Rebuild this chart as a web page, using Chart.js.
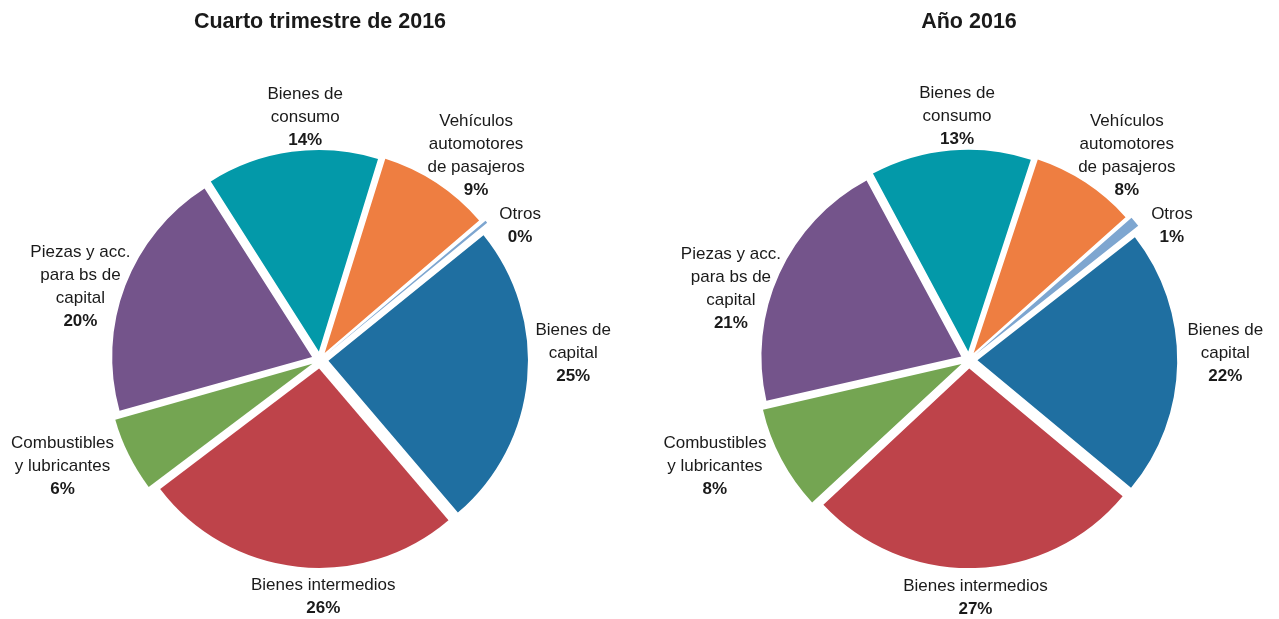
<!DOCTYPE html>
<html>
<head>
<meta charset="utf-8">
<script src="https://cdn.jsdelivr.net/npm/chart.js@4.4.1/dist/chart.umd.min.js"></script>
<style>
  body { margin: 0; background: #fff; }
  #wrap { display: flex; width: 1279px; height: 619px; }
  .box { position: relative; height: 619px; }
</style>
</head>
<body>
<div id="wrap">
  <div class="box" style="width:640px"><canvas id="pieQ4"></canvas></div>
  <div class="box" style="width:639px"><canvas id="pieAnio"></canvas></div>
</div>
<script>
// categorías (cada una partida en renglones como en el original)
const categorias = [
    ['Bienes de', 'capital'],
    ['Bienes intermedios'],
    ['Combustibles', 'y lubricantes'],
    ['Piezas y acc.', 'para bs de', 'capital'],
    ['Bienes de', 'consumo'],
    ['Vehículos', 'automotores', 'de pasajeros'],
    ['Otros']
];
// participación % en las importaciones
const valoresQ4 = [24.6, 25.9, 6.0, 20.3, 13.8, 9.0, 0.4];
const valoresAnio = [21.6, 27.0, 8.4, 20.7, 12.9, 8.4, 1.0];
const titulos = ['Cuarto trimestre de 2016', 'Año 2016'];
const colores = ['#1f6fa1', '#be434a', '#74a552', '#74548b', '#0399a9', '#ee7e41', '#7ea6d0'];

// pequeños corrimientos de las etiquetas (px) para que no queden pegadas
const ajusteQ4 = [[-6, -30], [35, -7], [-12, -8], [15, 23], [20, 12], [7, 20], [13, 23]];
const ajusteAnio = [[-4, -11], [-2, -8], [-12, -14], [10, 40], [11, 12], [9, 20], [16, 23]];

const FUENTE = '"Liberation Sans", Arial, Helvetica, sans-serif';
const OFFSET = 34;

// Dibuja nombre + porcentaje fuera de cada porción
const etiquetasPlugin = {
    id: 'etiquetas',
    afterDatasetsDraw(chart, args, opts) {
        const ctx = chart.ctx;
        const meta = chart.getDatasetMeta(0);
        const data = chart.data.datasets[0].data;
        const ajuste = opts.ajuste || [];
        const lh = 23;
        ctx.save();
        ctx.fillStyle = '#1a1a1a';
        ctx.textAlign = 'center';
        ctx.textBaseline = 'middle';
        meta.data.forEach((arc, i) => {
            const p = arc.getProps(['x', 'y', 'startAngle', 'endAngle', 'outerRadius'], true);
            const mid = (p.startAngle + p.endAngle) / 2;
            const ux = Math.cos(mid), uy = Math.sin(mid);
            const lines = chart.data.labels[i];
            ctx.font = '17px ' + FUENTE;
            let w = 0;
            lines.forEach(l => { w = Math.max(w, ctx.measureText(l).width); });
            const h = (lines.length + 1) * lh;
            const r = p.outerRadius + 23;
            const [dx, dy] = ajuste[i] || [0, 0];
            const bx = p.x + ux * r + ux * w / 2 + dx;
            const by = p.y + uy * r + uy * h / 2 + dy;
            const y0 = by - h / 2 + lh / 2;
            lines.forEach((l, k) => {
                ctx.fillText(l, bx, y0 + k * lh);
            });
            ctx.font = 'bold 17px ' + FUENTE;
            ctx.fillText(Math.round(data[i]) + '%', bx, y0 + lines.length * lh);
        });
        ctx.restore();
    }
};

function crearPie(id, valores, titulo, rotacion, padIzq, ajuste) {
    const ctx = document.getElementById(id).getContext('2d');
    return new Chart(ctx, {
        type: 'pie',
        data: {
            labels: categorias,
            datasets: [{
                data: valores,
                backgroundColor: colores,
                borderWidth: 0,
                offset: OFFSET
            }]
        },
        options: {
            responsive: true,
            maintainAspectRatio: false,
            animation: false,
            rotation: rotacion,
            layout: { padding: { top: 0, bottom: 42.5, left: padIzq, right: 0 } },
            plugins: {
                legend: { display: false },
                tooltip: { enabled: false },
                title: {
                    display: true,
                    text: titulo,
                    color: '#1a1a1a',
                    font: { size: 21.5, weight: 'bold', family: FUENTE },
                    padding: { top: 9, bottom: 108.7 }
                },
                etiquetas: { ajuste: ajuste }
            }
        },
        plugins: [etiquetasPlugin]
    });
}

crearPie('pieQ4', valoresQ4, titulos[0], 51, 0, ajusteQ4);
crearPie('pieAnio', valoresAnio, titulos[1], 52, 19, ajusteAnio);
</script>
</body>
</html>
